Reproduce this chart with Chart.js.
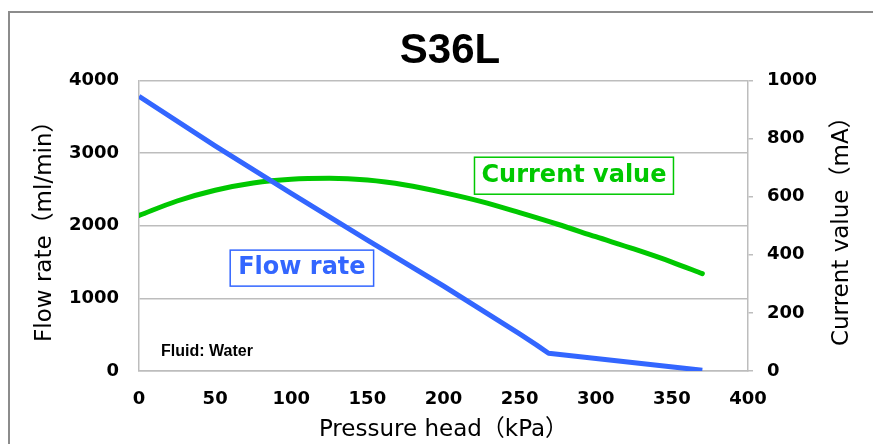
<!DOCTYPE html>
<html>
<head>
<meta charset="utf-8">
<title>S36L</title>
<script src="https://cdn.jsdelivr.net/npm/chart.js@4.4.1/dist/chart.umd.min.js"></script>
<style>
  body { margin: 0; overflow: hidden; background: #fff; }
  #frame { position: absolute; left: 8px; top: 11px; width: 920px; height: 470px; border: 2px solid #8c8c8c; }
  #pumpChart { position: absolute; left: 0; top: 0; }
</style>
</head>
<body>
<div id="frame"></div>
<canvas id="pumpChart" width="873" height="444"></canvas>
<script>
// S36L pump curve - flow rate and current vs pressure head
const pressureFlow = [0, 50, 100, 150, 200, 250, 261, 269, 370];
const flowRate = [3780, 3100, 2445, 1800, 1170, 510, 360, 245, 10];

const pressureCurrent = [0, 25, 50, 75, 100, 125, 150, 175, 200, 225, 250, 275, 300, 325, 350, 370];
const currentValue = [535, 585, 622, 647, 660, 663, 657, 640, 614, 583, 545, 505, 462, 420, 375, 335];

const xTicks = [0, 50, 100, 150, 200, 250, 300, 350, 400];
const flowTicks = [0, 1000, 2000, 3000, 4000];
const currentTicks = [0, 200, 400, 600, 800, 1000];

const BLUE = '#3366ff';
const GREEN = '#00c800';
const GRID = '#bdbdbd';

//text boxes on the plot
const notesPlugin = {
    id: 'notes',
    afterDatasetsDraw(chart, args, opts) {
        const ctx = chart.ctx;
        const xs = chart.scales.x;
        opts.items.forEach(item => {
            const px = xs.getPixelForValue(item.x);
            const py = chart.scales[item.axis].getPixelForValue(item.y);
            ctx.save();
            ctx.font = item.font;
            ctx.textBaseline = 'middle';
            const w = ctx.measureText(item.text).width;
            if (item.box) {
                const bw = w + item.padX * 2;
                const bh = item.boxH;
                ctx.fillStyle = '#fff';
                ctx.fillRect(px - bw / 2, py - bh / 2, bw, bh);
                ctx.strokeStyle = item.color;
                ctx.lineWidth = 1.5;
                ctx.strokeRect(px - bw / 2, py - bh / 2, bw, bh);
                ctx.textAlign = 'center';
            } else {
                ctx.textAlign = 'left';
            }
            ctx.fillStyle = item.color;
            ctx.fillText(item.text, px, py);
            ctx.restore();
        });
    }
};

// right axis title, reads bottom to top like the left one
const rightTitlePlugin = {
    id: 'rightTitle',
    afterDraw(chart, args, opts) {
        const ctx = chart.ctx;
        const axis = chart.scales.y1;
        ctx.save();
        ctx.font = opts.font;
        ctx.fillStyle = '#000';
        ctx.textAlign = 'center';
        ctx.textBaseline = 'middle';
        ctx.translate(axis.right - opts.offset, (axis.top + axis.bottom) / 2);
        ctx.rotate(-Math.PI / 2);
        ctx.fillText(opts.text, 0, 0);
        ctx.restore();
    }
};

const data = {
    datasets: [{
        label: 'Flow rate',
        data: pressureFlow.map((p, i) => ({ x: p, y: flowRate[i] })),
        yAxisID: 'y',
        borderColor: BLUE,
        borderWidth: 5,
        pointRadius: 0,
        tension: 0,
        borderJoinStyle: 'round'
    }, {
        label: 'Current value',
        data: pressureCurrent.map((p, i) => ({ x: p, y: currentValue[i] })),
        yAxisID: 'y1',
        borderColor: GREEN,
        borderWidth: 5,
        pointRadius: 0,
        cubicInterpolationMode: 'monotone',
        borderCapStyle: 'round',
        borderJoinStyle: 'round'
    }]
};

const tickFont = { family: "'DejaVu Sans', Verdana, sans-serif", size: 18, weight: 'bold' };
const titleFont = { family: "'DejaVu Sans', 'Noto Sans CJK JP', sans-serif", size: 23 };
const plain = v => String(v);

const config = {
    type: 'line',
    data: data,
    plugins: [notesPlugin, rightTitlePlugin],
    options: {
        responsive: false,
        animation: false,
        events: [],
        layout: { padding: { left: 27, right: 0, top: 0, bottom: 0 } },
        plugins: {
            legend: { display: false },
            tooltip: { enabled: false },
            title: {
                display: true,
                text: 'S36L',
                color: '#000',
                font: { family: "'Liberation Sans', Arial, sans-serif", size: 42, weight: 'bold', lineHeight: 1.2 },
                padding: { top: 26, bottom: 4 }
            },
            rightTitle: {
                text: 'Current value（mA）',
                font: "23px 'DejaVu Sans', 'Noto Sans CJK JP', sans-serif",
                offset: 31
            },
            notes: {
                items: [
                    { text: 'Flow rate', x: 107, y: 1416, axis: 'y', box: true, padX: 8, boxH: 36, color: BLUE,
                      font: "bold 24px 'DejaVu Sans', Verdana, sans-serif" },
                    { text: 'Current value', x: 285.7, y: 672, axis: 'y1', box: true, padX: 7, boxH: 37, color: GREEN,
                      font: "bold 24px 'DejaVu Sans', Verdana, sans-serif" },
                    { text: 'Fluid: Water', x: 14.5, y: 261, axis: 'y', box: false, color: '#000',
                      font: "bold 16px 'Liberation Sans Narrow', 'Liberation Sans', Arial, sans-serif" }
                ]
            }
        },
        scales: {
            x: {
                type: 'linear',
                min: 0,
                max: 400,
                afterBuildTicks: axis => { axis.ticks = xTicks.map(v => ({ value: v })); },
                afterFit: axis => { axis.height = 73; },
                grid: { display: false, drawTicks: false },
                border: { display: true, color: GRID, width: 1.5 },
                ticks: { color: '#000', font: tickFont, padding: 18, maxRotation: 0, callback: plain },
                title: { display: true, text: 'Pressure head（kPa）', color: '#000', font: titleFont, padding: { top: 0, bottom: 0 } }
            },
            y: {
                position: 'left',
                min: 0,
                max: 4000,
                afterBuildTicks: axis => { axis.ticks = flowTicks.map(v => ({ value: v })); },
                afterFit: axis => { axis.width = 112; },
                grid: { color: GRID, lineWidth: 1.5, drawTicks: false },
                border: { display: true, color: GRID, width: 1.5 },
                ticks: { color: '#000', font: tickFont, padding: 20, callback: plain },
                title: { display: true, text: 'Flow rate（ml/min）', color: '#000', font: titleFont, padding: { top: 4, bottom: 0 } }
            },
            y1: {
                position: 'right',
                min: 0,
                max: 1000,
                afterBuildTicks: axis => { axis.ticks = currentTicks.map(v => ({ value: v })); },
                afterFit: axis => { axis.width = 125; },
                grid: { drawOnChartArea: false, color: GRID, lineWidth: 1.5, tickLength: 5 },
                border: { display: true, color: GRID, width: 1.5 },
                ticks: { color: '#000', font: tickFont, padding: 14, callback: plain },
                title: { display: false }
            }
        }
    }
};

const ctx = document.getElementById('pumpChart');
const pumpChart = new Chart(ctx, config);
</script>
</body>
</html>
